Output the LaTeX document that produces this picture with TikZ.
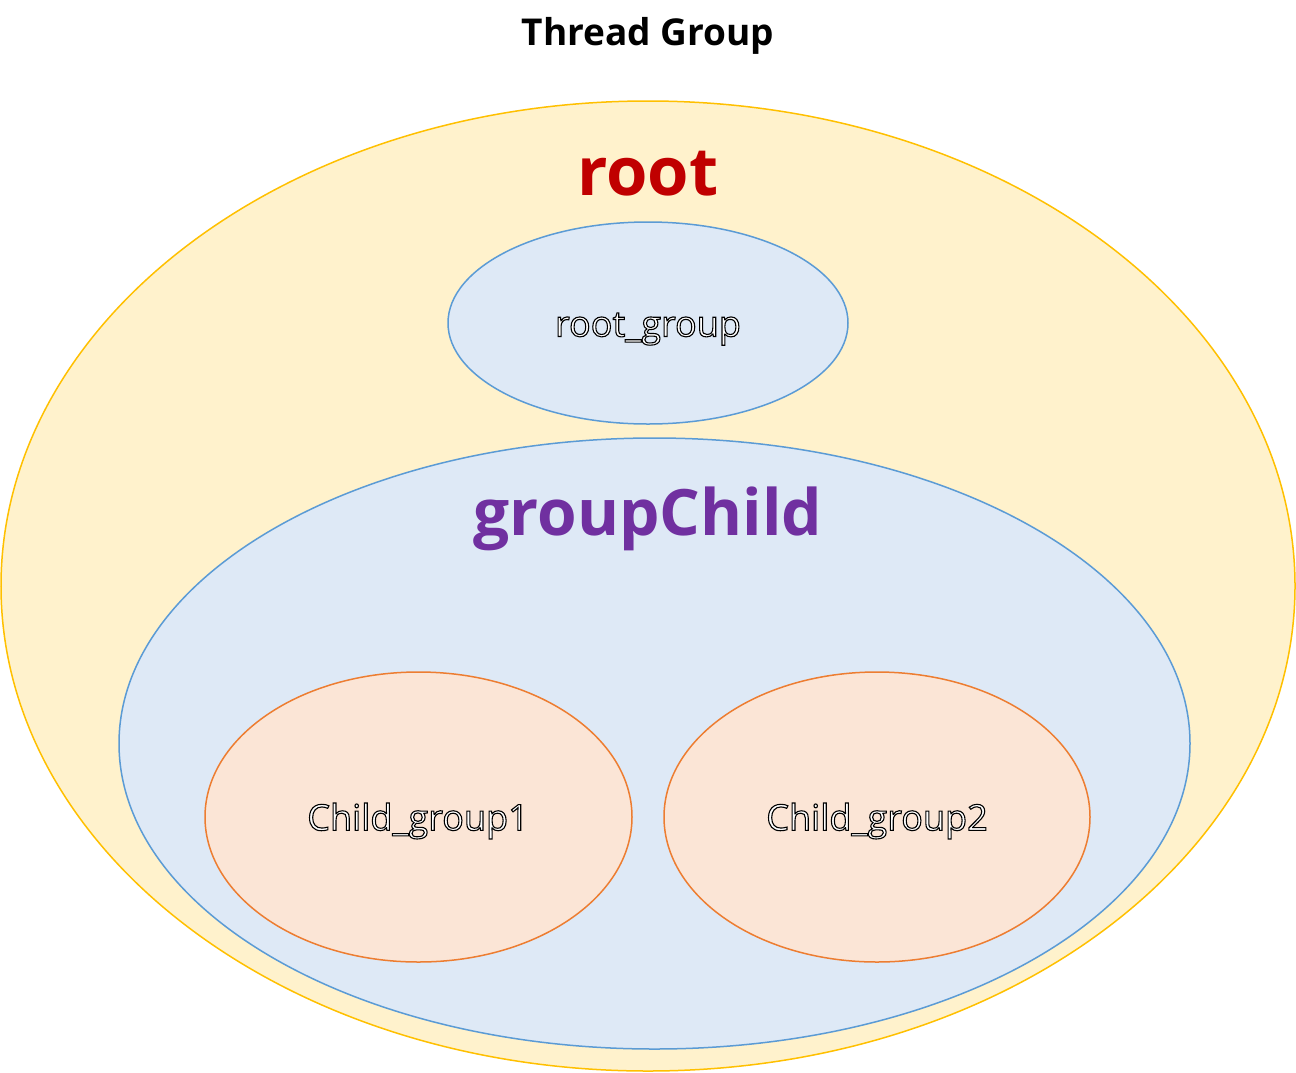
\documentclass[tikz,border=0pt]{standalone}
\usepackage{fontspec}
\setmainfont{Open Sans}
\definecolor{yfill}{HTML}{FFF2CC}
\definecolor{ydraw}{HTML}{FFC000}
\definecolor{bfill}{HTML}{DEE9F6}
\definecolor{bdraw}{HTML}{5B9BD5}
\definecolor{ofill}{HTML}{FBE5D6}
\definecolor{odraw}{HTML}{ED7D31}
\definecolor{rootred}{HTML}{C00000}
\definecolor{gpurple}{HTML}{7030A0}
\newcommand{\outlinetext}[1]{{\color{white}\special{pdf:literal 0 G 2 Tr 1.1 w}#1\special{pdf:literal 0 Tr}}}
\begin{document}
\begin{tikzpicture}[x=1pt,y=-1pt,
  lbl/.style={inner sep=0pt, anchor=center}]
\useasboundingbox (0,0) rectangle (1296,1072);
\fill[white] (0,0) rectangle (1296,1072);
\draw[fill=yfill, draw=ydraw, line width=1.5pt] (648,586) ellipse [x radius=647, y radius=485];
\draw[fill=bfill, draw=bdraw, line width=1.5pt] (648,323) ellipse [x radius=200, y radius=101];
\draw[fill=bfill, draw=bdraw, line width=1.5pt] (654.5,743.5) ellipse [x radius=535.5, y radius=305.5];
\draw[fill=ofill, draw=odraw, line width=1.5pt] (418.5,817) ellipse [x radius=213.5, y radius=145];
\draw[fill=ofill, draw=odraw, line width=1.5pt] (877,817) ellipse [x radius=213, y radius=145];
\node[lbl] (title) at (648,36) {\fontsize{37}{42}\selectfont\bfseries Thread Group};
\node[lbl] (root) at (648,174) {\fontsize{67}{72}\selectfont\bfseries\color{rootred}root};
\node[lbl] (rootgroup) at (648,329) {\fontsize{36}{42}\selectfont\outlinetext{root\_group}};
\node[lbl] (groupchild) at (648,519) {\fontsize{64}{70}\selectfont\bfseries\color{gpurple}groupChild};
\node[lbl] (cg1) at (418,821) {\fontsize{36}{42}\selectfont\outlinetext{Child\_group1}};
\node[lbl] (cg2) at (877,821) {\fontsize{36}{42}\selectfont\outlinetext{Child\_group2}};
\end{tikzpicture}
\end{document}
